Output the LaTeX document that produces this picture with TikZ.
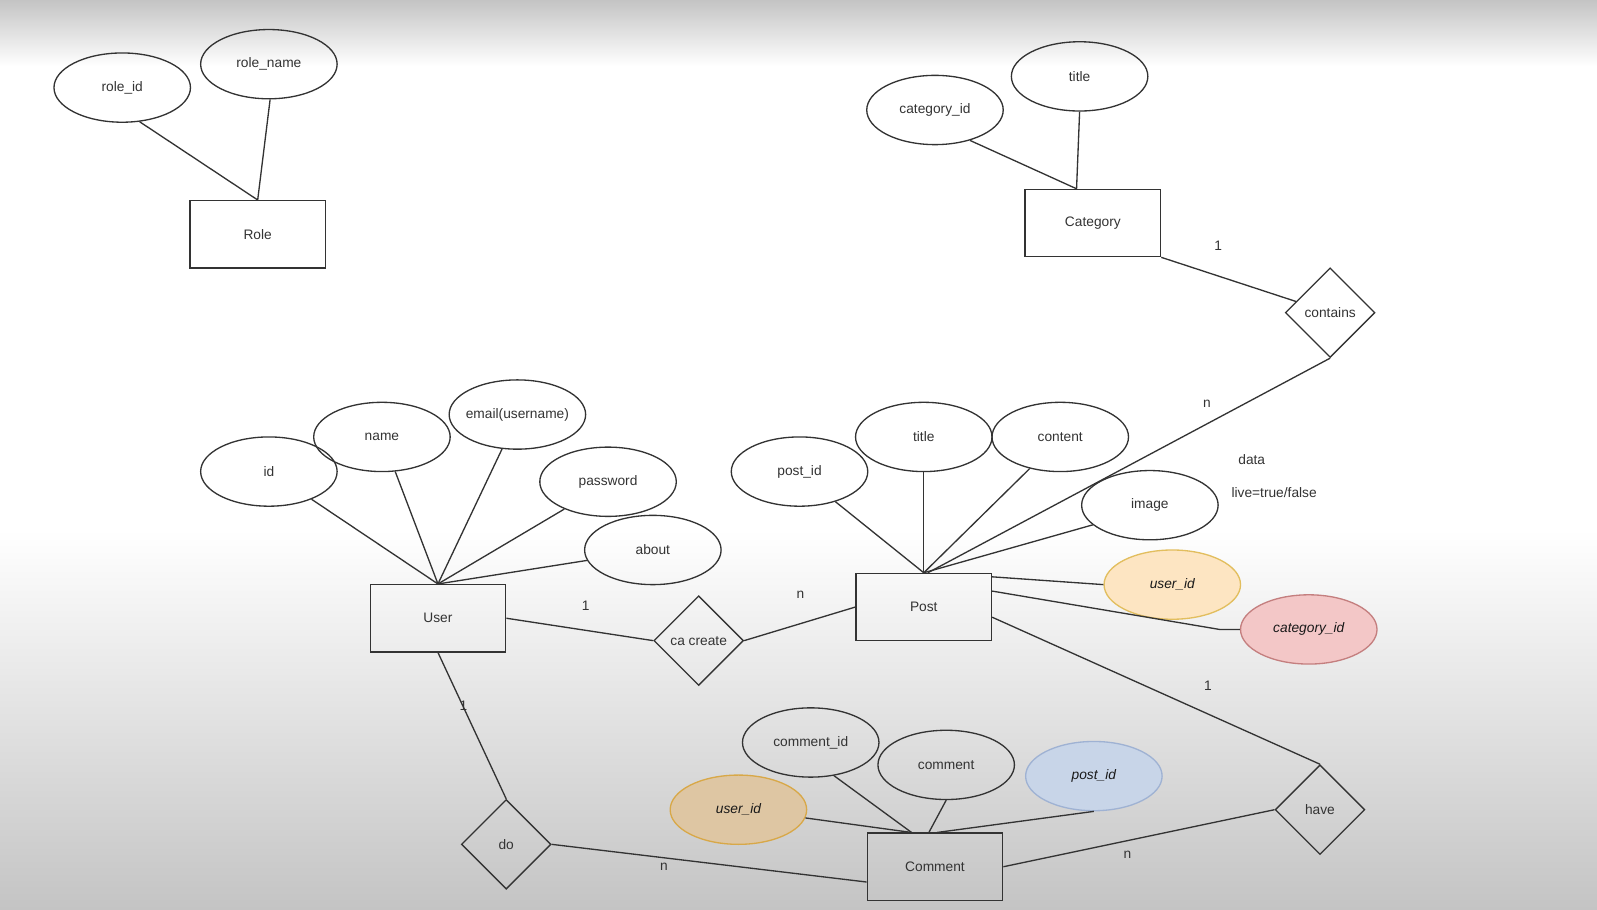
\documentclass[tikz,border=0pt]{standalone}
\usepackage{fontspec}
\setmainfont{Liberation Sans}
\usetikzlibrary{shapes.geometric}
\definecolor{bggray}{HTML}{C4C4C4}
\definecolor{orangefill}{HTML}{FDE5C2}
\definecolor{orangeline}{HTML}{E2BE5E}
\definecolor{redfill}{HTML}{F3C7C7}
\definecolor{redline}{HTML}{C47F7F}
\definecolor{bluefill}{HTML}{C8D5E8}
\definecolor{blueline}{HTML}{9FB2D3}
\definecolor{tanfill}{HTML}{DEC6A3}
\definecolor{tanline}{HTML}{D8A848}

\begin{document}
\begin{tikzpicture}[x=1pt,y=-1pt,line width=1.3pt,color=black!80,
        every node/.style={font=\fontsize{13.5}{16}\selectfont},
        attr/.style={draw,ellipse,minimum width=134pt,minimum height=68pt,inner sep=0pt},
        entity/.style={draw,rectangle,minimum width=133pt,minimum height=66pt},
        rel/.style={draw,diamond,minimum width=88pt,minimum height=88pt,inner sep=0pt},
        key/.style={attr,text=black!90,font=\fontsize{13.5}{16}\selectfont\itshape}]
        \useasboundingbox (0,0) rectangle (1568,893);
        \shade[top color=bggray,bottom color=white] (0,0) rectangle (1568,65);
        \shade[top color=white,bottom color=bggray] (0,520) rectangle (1568,893);

        % role
        \node[attr] (roleid) at (120,86) {role\_id};
        \node[attr] (rolename) at (264,63) {role\_name};
        \node[entity] (role) at (253,230) {Role};
        \draw (roleid.-63) -- (role.north);
        \draw (rolename.-88) -- (role.north);

        % category
        \node[attr] (catid) at (918,108) {category\_id};
        \node[attr] (cattitle) at (1060,75) {title};
        \node[entity] (category) at (1073,219) {Category};
        \coordinate (cattop) at ([xshift=-16pt]category.north);
        \draw (catid.-41) -- (cattop);
        \draw (cattitle.-90) -- (cattop);
        \node[rel] (contains) at (1306,307) {contains};
        \draw (category.south east) -- (contains);
        \node (c1) at (1196,241) {1};

        % user
        \node[attr] (id) at (264,463) {id};
        \node[attr] (name) at (375,429) {name};
        \node[attr] (email) at (508,407) {\makebox[0pt]{email(username)}};
        \node[attr] (password) at (597,473) {password};
        \node[attr] (about) at (641,540) {about};
        \node[entity] (user) at (430,607) {User};
        \draw (id.-33) -- (user.north);
        \draw (name.-69) -- (user.north);
        \draw (email.-114) -- (user.north);
        \draw (password.-148) -- (user.north);
        \draw (about.-171) -- (user.north);

        % post
        \node[attr] (postid) at (785,463) {post\_id};
        \node[attr] (ptitle) at (907,429) {title};
        \node[attr] (content) at (1041,429) {content};
        \node[attr] (image) at (1129,496) {image};
        \node[entity] (post) at (907,596) {Post};
        \draw (postid.-40) -- (post.north);
        \draw (ptitle.-90) -- (post.north);
        \draw (content.-134) -- (post.north);
        \draw (image.-161) -- (post.north);
        \node[key,fill=orangefill,draw=orangeline] (puserid) at (1151,574) {user\_id};
        \node[key,fill=redfill,draw=redline] (pcatid) at (1285,618) {category\_id};
        \draw ([yshift=-4pt]post.north east) -- (puserid.west);
        \draw ([yshift=-18pt]post.north east) -- ([xshift=-20pt]pcatid.west) -- (pcatid.west);
        \draw (contains.south) -- ([xshift=4pt]post.north);
        \node (c2) at (1185,396) {n};
        \node (data) at (1229,451) {data};
        \node (live) at (1251,484) {live=true/false};

        % user creates post
        \node[rel] (create) at (686,629) {ca create};
        \draw (user.east) -- (create.west);
        \draw (create.east) -- (post.west);
        \node (u1) at (575,595) {1};
        \node (u2) at (786,584) {n};

        % comment
        \node[entity] (comment) at (918,851) {Comment};
        \node[attr] (commentid) at (796,729) {comment\_id};
        \node[attr] (ctext) at (929,751) {comment};
        \node[key,fill=bluefill,draw=blueline] (cpostid) at (1074,762) {post\_id};
        \node[key,fill=tanfill,draw=tanline] (cuserid) at (725,795) {user\_id};
        \draw (cuserid.-7) -- ([xshift=-23pt]comment.north);
        \draw (commentid.-55) -- ([xshift=-23pt]comment.north);
        \draw (ctext.-90) -- ([xshift=-6pt]comment.north);
        \draw (cpostid.-90) -- ([xshift=2pt]comment.north);

        \node[rel] (do) at (497,829) {do};
        \draw (user.south) -- (do.north);
        \draw (do.east) -- ([yshift=-15pt]comment.west);
        \node (d1) at (455,693) {1};
        \node (d2) at (652,851) {n};

        \node[rel] (have) at (1296,795) {have};
        \draw ([yshift=-10pt]post.east) -- (have.north);
        \draw (comment.east) -- (have.west);
        \node (h1) at (1186,673) {1};
        \node (h2) at (1107,839) {n};
    \end{tikzpicture}
\end{document}
